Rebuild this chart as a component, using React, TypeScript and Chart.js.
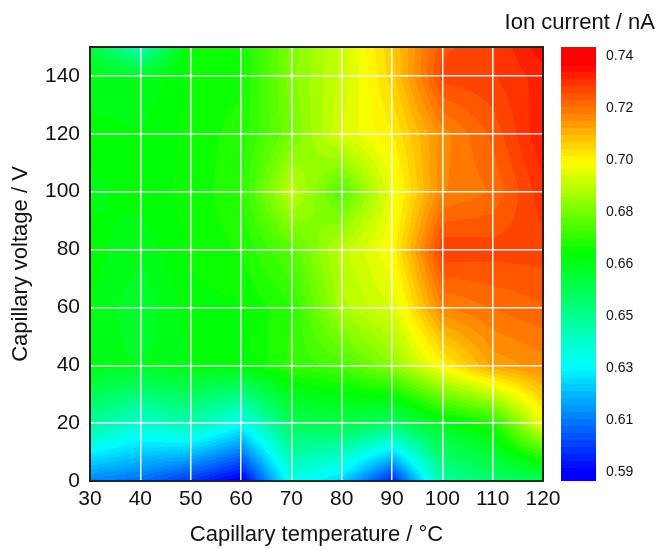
import { useEffect, useRef } from 'react';
import { Chart, registerables } from 'chart.js';

Chart.register(...registerables);

// Grid of the measurement (capillary temperature in °C, capillary voltage in V)
const temperatures = [30, 40, 50, 60, 70, 80, 90, 100, 110, 120];
const voltages = [0, 20, 40, 60, 80, 100, 120, 140, 150];

// Ion current (nA) for each voltage row, one value per temperature
const current_V0 = [0.61, 0.607, 0.598, 0.588, 0.632, 0.622, 0.595, 0.643, 0.652, 0.655];
const current_V20 = [0.645, 0.636, 0.642, 0.63, 0.655, 0.658, 0.653, 0.665, 0.672, 0.7];
const current_V40 = [0.666, 0.664, 0.667, 0.668, 0.675, 0.678, 0.687, 0.703, 0.715, 0.718];
const current_V60 = [0.667, 0.662, 0.668, 0.669, 0.674, 0.691, 0.697, 0.719, 0.722, 0.724];
const current_V80 = [0.668, 0.665, 0.67, 0.672, 0.68, 0.693, 0.702, 0.729, 0.728, 0.728];
const current_V100 = [0.666, 0.668, 0.67, 0.674, 0.694, 0.679, 0.699, 0.719, 0.722, 0.731];
const current_V120 = [0.668, 0.667, 0.67, 0.673, 0.684, 0.697, 0.704, 0.718, 0.725, 0.734];
const current_V140 = [0.665, 0.664, 0.67, 0.671, 0.686, 0.695, 0.708, 0.728, 0.729, 0.733];
const current_V150 = [0.66, 0.64, 0.671, 0.671, 0.685, 0.695, 0.709, 0.726, 0.729, 0.736];

const currentRows = [
  current_V0, current_V20, current_V40, current_V60, current_V80,
  current_V100, current_V120, current_V140, current_V150,
];

// Colour bar
const colorbarTicks = [0.59, 0.60875, 0.6275, 0.64625, 0.665, 0.68375, 0.7025, 0.72125, 0.74];
const colorbarLabels = ['0.59', '0.61', '0.63', '0.65', '0.66', '0.68', '0.70', '0.72', '0.74'];
const CB_MIN = 0.58675;
const CB_MAX = 0.74325;
const LEVEL_STEP = 0.0025;

const xTicks = [30, 40, 50, 60, 70, 80, 90, 100, 110, 120];
const yTicks = [0, 20, 40, 60, 80, 100, 120, 140];

const CMAP_STOPS = [0.5907, 0.6286, 0.669, 0.7018, 0.7375];
const CMAP_COLORS = [
  [0, 0, 255],
  [0, 255, 255],
  [0, 255, 0],
  [255, 255, 0],
  [255, 0, 0],
];

const FONT = "'Liberation Sans', Arial, Helvetica, sans-serif";

function cmap(v: number): number[] {
  if (v <= CMAP_STOPS[0]) return CMAP_COLORS[0];
  for (let k = 1; k < CMAP_STOPS.length; k++) {
    if (v <= CMAP_STOPS[k]) {
      const t = (v - CMAP_STOPS[k - 1]) / (CMAP_STOPS[k] - CMAP_STOPS[k - 1]);
      const a = CMAP_COLORS[k - 1];
      const b = CMAP_COLORS[k];
      return [a[0] + (b[0] - a[0]) * t, a[1] + (b[1] - a[1]) * t, a[2] + (b[2] - a[2]) * t];
    }
  }
  return CMAP_COLORS[CMAP_COLORS.length - 1];
}

function levelColor(v: number): number[] {
  const idx = Math.floor((v - CB_MIN) / LEVEL_STEP);
  const center = CB_MIN + (idx + 0.5) * LEVEL_STEP;
  return cmap(center);
}

function findCell(arr: number[], v: number): [number, number] {
  let i = 0;
  while (i < arr.length - 2 && v > arr[i + 1]) i++;
  let t = (v - arr[i]) / (arr[i + 1] - arr[i]);
  if (t < 0) t = 0;
  if (t > 1) t = 1;
  return [i, t];
}

function interp(xv: number, yv: number): number {
  const [ci, tx] = findCell(temperatures, xv);
  const [ri, ty] = findCell(voltages, yv);
  const z00 = currentRows[ri][ci];
  const z10 = currentRows[ri][ci + 1];
  const z01 = currentRows[ri + 1][ci];
  const z11 = currentRows[ri + 1][ci + 1];
  return (
    z00 * (1 - tx) * (1 - ty) + z10 * tx * (1 - ty) + z01 * (1 - tx) * ty + z11 * tx * ty
  );
}

const heatmapPlugin = {
  id: 'heatmap',
  beforeDraw(chart: any) {
    const { ctx, chartArea: a, scales } = chart;
    const xs = scales.x;
    const ys = scales.y;
    const cb = scales.cb;
    const w = Math.round(a.right - a.left);
    const h = Math.round(a.bottom - a.top);
    const off = document.createElement('canvas');
    off.width = w;
    off.height = h;
    const octx = off.getContext('2d')!;
    const img = octx.createImageData(w, h);
    const xvals: number[] = [];
    for (let i = 0; i < w; i++) xvals.push(xs.getValueForPixel(a.left + i + 0.5));
    for (let j = 0; j < h; j++) {
      const yv = ys.getValueForPixel(a.top + j + 0.5);
      for (let i = 0; i < w; i++) {
        const v = interp(xvals[i], yv);
        const c = levelColor(v);
        const p = (j * w + i) * 4;
        img.data[p] = c[0];
        img.data[p + 1] = c[1];
        img.data[p + 2] = c[2];
        img.data[p + 3] = 255;
      }
    }
    octx.putImageData(img, 0, 0);
    ctx.save();
    ctx.drawImage(off, a.left, a.top);

    // colour bar drawn along the 'cb' scale
    const bx = a.right + 18;
    const bw = 35;
    const nLevels = Math.ceil((CB_MAX - CB_MIN) / LEVEL_STEP);
    for (let k = 0; k < nLevels; k++) {
      const lo = CB_MIN + k * LEVEL_STEP;
      const hi = Math.min(CB_MAX, lo + LEVEL_STEP);
      const c = levelColor(lo + LEVEL_STEP / 2);
      const y0 = cb.getPixelForValue(hi);
      const y1 = cb.getPixelForValue(lo);
      ctx.fillStyle = `rgb(${Math.round(c[0])},${Math.round(c[1])},${Math.round(c[2])})`;
      ctx.fillRect(bx, Math.floor(y0), bw, Math.ceil(y1) - Math.floor(y0));
    }
    ctx.restore();
  },
  afterDraw(chart: any) {
    const { ctx, chartArea: a } = chart;
    ctx.save();
    ctx.strokeStyle = '#222';
    ctx.lineWidth = 2;
    ctx.strokeRect(a.left, a.top, a.right - a.left, a.bottom - a.top);
    ctx.restore();
  },
};

export default function App() {
  const canvasRef = useRef<HTMLCanvasElement | null>(null);

  useEffect(() => {
    const canvas = canvasRef.current;
    if (!canvas) return;
    const points: { x: number; y: number }[] = [];
    voltages.forEach((v) => temperatures.forEach((t) => points.push({ x: t, y: v })));

    const chart = new Chart(canvas, {
      type: 'scatter',
      data: {
        datasets: [
          {
            data: points,
            xAxisID: 'x',
            yAxisID: 'y',
            pointRadius: 0,
            pointHoverRadius: 0,
            showLine: false,
          },
        ],
      },
      options: {
        responsive: false,
        animation: false,
        events: [],
        layout: { padding: { left: 0, top: 0, right: 3, bottom: 0 } },
        plugins: {
          legend: { display: false },
          tooltip: { enabled: false },
          title: {
            display: true,
            text: 'Ion current / nA',
            align: 'end',
            color: '#111',
            font: { family: FONT, size: 22, weight: 'normal' },
            padding: { top: 10, bottom: 10.6 },
          },
        },
        scales: {
          x: {
            type: 'linear',
            position: 'bottom',
            min: 30,
            max: 120,
            afterFit: (s: any) => {
              s.height = 68;
              s.paddingLeft = 0;
              s.paddingRight = 0;
            },
            afterBuildTicks: (s: any) => {
              s.ticks = xTicks.map((v) => ({ value: v }));
            },
            ticks: { color: '#111', font: { family: FONT, size: 21 }, padding: 6 },
            grid: { color: 'rgba(255,255,255,0.95)', lineWidth: 1.5, drawTicks: false },
            border: { display: false },
            title: {
              display: true,
              text: 'Capillary temperature / °C',
              color: '#111',
              font: { family: FONT, size: 22 },
              padding: { top: 0, bottom: 1 },
            },
          },
          y: {
            type: 'linear',
            position: 'left',
            min: 0,
            max: 150,
            afterFit: (s: any) => {
              s.width = 90;
              s.paddingTop = 0;
              s.paddingBottom = 0;
            },
            afterBuildTicks: (s: any) => {
              s.ticks = yTicks.map((v) => ({ value: v }));
            },
            ticks: { color: '#111', font: { family: FONT, size: 21 }, padding: 10 },
            grid: { color: 'rgba(255,255,255,0.95)', lineWidth: 1.5, drawTicks: false },
            border: { display: false },
            title: {
              display: true,
              text: 'Capillary voltage / V',
              color: '#111',
              font: { family: FONT, size: 22 },
              padding: { top: 8, bottom: 0 },
            },
          },
          cb: {
            type: 'linear',
            position: 'right',
            min: CB_MIN,
            max: CB_MAX,
            afterFit: (s: any) => {
              s.width = 112;
              s.paddingTop = 0;
              s.paddingBottom = 0;
            },
            afterBuildTicks: (s: any) => {
              s.ticks = colorbarTicks.map((v) => ({ value: v }));
            },
            ticks: {
              color: '#111',
              font: { family: FONT, size: 14 },
              padding: 63,
              callback: (_v: any, i: number) => colorbarLabels[i],
            },
            grid: { display: false, drawTicks: false },
            border: { display: false },
          },
        },
      } as any,
      plugins: [heatmapPlugin],
    });
    return () => chart.destroy();
  }, []);

  return (
    <div style={{ position: 'fixed', left: 0, top: 0, width: 658, height: 549, background: '#fff' }}>
      <canvas ref={canvasRef} width={658} height={549} style={{ display: 'block' }} />
    </div>
  );
}
